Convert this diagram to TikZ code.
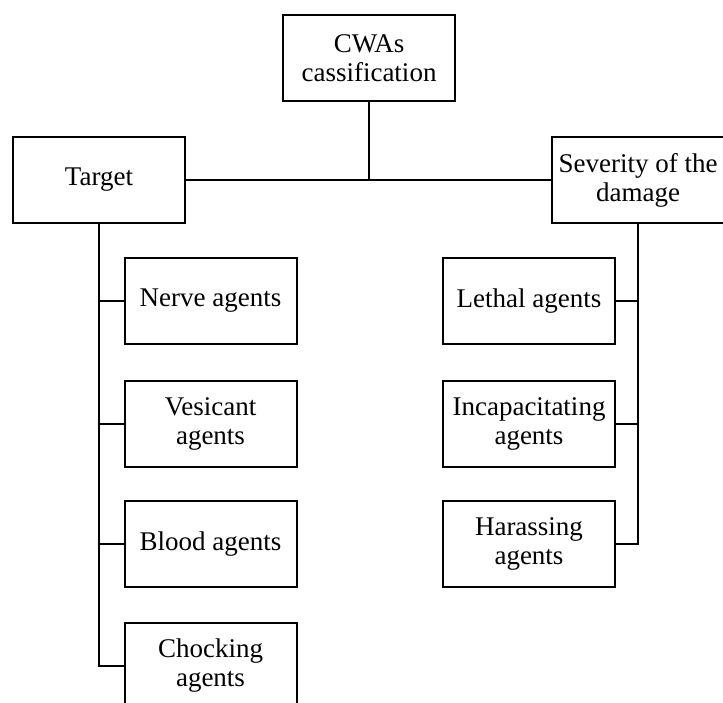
\documentclass[tikz,border=0pt]{standalone}
\usepackage{fontspec}
\setmainfont{Liberation Serif}
\begin{document}
\begin{tikzpicture}[x=1pt,y=-1pt,
  box/.style={draw, line width=2pt, minimum width=172pt, minimum height=86pt,
    align=center, inner sep=0pt, font=\fontsize{27}{29}\selectfont},
  conn/.style={line width=2pt}]
\useasboundingbox (0,0) rectangle (723,702);
\clip (0,0) rectangle (723,702);
\node[box] (cwa) at (369,58) {CWAs\\cassification};
\node[box] (tgt) at (99,180) {Target};
\node[box] (sev) at (638,180) {Severity of the\\damage};
\node[box] (nrv) at (210.5,301) {Nerve agents};
\node[box] (ves) at (210.5,423.5) {Vesicant\\agents};
\node[box] (bld) at (210.5,544) {Blood agents};
\node[box] (chk) at (210.5,666) {Chocking\\agents};
\node[box] (lth) at (529,301) {Lethal agents};
\node[box] (inc) at (529,423.5) {Incapacitating\\agents};
\node[box] (har) at (529,544) {Harassing\\agents};
\draw[conn] (tgt.east) -- (sev.west);
\draw[conn] (cwa.south) -- (cwa.south |- tgt.east);
\draw[conn] (tgt.south) -- (tgt.south |- chk.west) -- (chk.west);
\draw[conn] (tgt.south |- nrv.west) -- (nrv.west);
\draw[conn] (tgt.south |- ves.west) -- (ves.west);
\draw[conn] (tgt.south |- bld.west) -- (bld.west);
\draw[conn] (sev.south) -- (sev.south |- har.east) -- (har.east);
\draw[conn] (sev.south |- lth.east) -- (lth.east);
\draw[conn] (sev.south |- inc.east) -- (inc.east);
\end{tikzpicture}
\end{document}
